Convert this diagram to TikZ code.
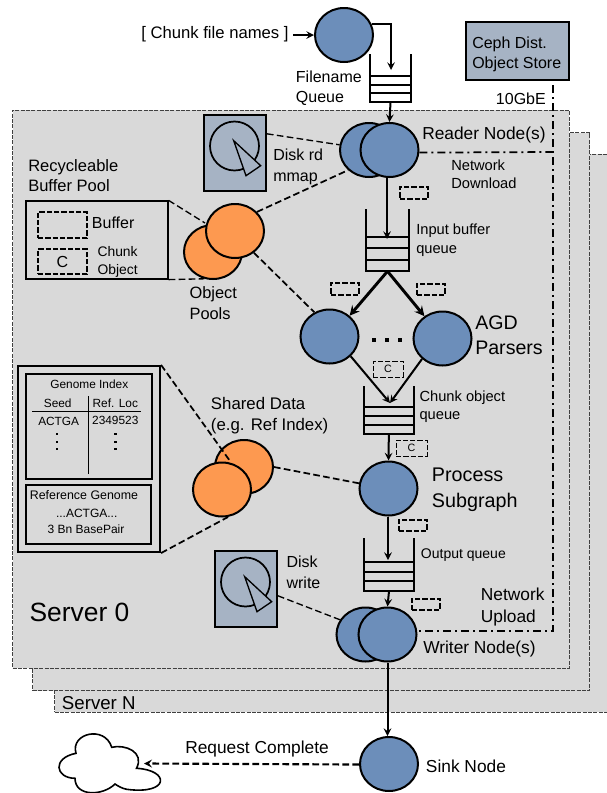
\documentclass[tikz,border=0pt]{standalone}
\usepackage{fontspec}
\setmainfont{Liberation Sans}
\usetikzlibrary{arrows, shapes, fit}

\definecolor{nodeblue}{HTML}{6C8EBA}
\definecolor{poolorange}{HTML}{FD9950}
\definecolor{storegray}{HTML}{A6B3C4}
\definecolor{panelgray}{HTML}{D9D9D9}
\newcommand{\fs}[2]{\fontsize{#1}{#2}\selectfont}

\tikzset{
	panel/.style={draw=black!75, dash pattern=on 3pt off 1pt, line width=0.6pt, fill=panelgray, inner sep=0},
	worker/.style={ellipse, draw, line width=1.5pt, fill=nodeblue, minimum width=43.5pt, minimum height=40.5pt, inner sep=0},
	pool/.style={worker, fill=poolorange},
	store/.style={draw, line width=1.4pt, fill=storegray, inner sep=0},
	infobox/.style={draw, line width=0.9pt, inner sep=0},
	bufbox/.style={draw, dash pattern=on 4pt off 1.5pt, line width=1pt, inner sep=0},
	clabel/.style={label={[inner sep=0, font=\fs{8}{8}]center:C}},
	lab/.style={anchor=west, inner sep=0, align=left, yshift=-1.2pt},
	mid/.style={inner sep=0, align=center, yshift=-0.5pt},
	flow/.style={line width=1.5pt, -stealth},
	heavyflow/.style={line width=2.2pt, -stealth},
	dashlink/.style={dash pattern=on 5pt off 2.5pt, line width=1.3pt},
	netlink/.style={dash pattern=on 6pt off 3pt on 1.5pt off 3pt, line width=1.3pt},
	dotmark/.style={rectangle, fill=black, minimum size=3pt, inner sep=0},
	tabledot/.style={rectangle, fill=black, minimum size=2.2pt, inner sep=0},
}

\newcommand{\drawqueue}[6]{
	\node[inner sep=0, fit={(#2,#4) (#3,#6)}] (#1) {};
	\draw[line width=1.8pt] (#2,#4) -- (#2,#6) -- (#3,#6) -- (#3,#4);
	\draw[line width=1.5pt] (#2,#5) -- (#3,#5);
	\draw[line width=1.5pt] (#2,{#5+(#6-#5)/3}) -- (#3,{#5+(#6-#5)/3});
	\draw[line width=1.5pt] (#2,{#5+2*(#6-#5)/3}) -- (#3,{#5+2*(#6-#5)/3});
}
\newcommand{\drawdisk}[3]{
	\node[store, fit={(#2,#3) (#2+62,#3+76)}] (#1) {};
	\draw[line width=1.3pt, fill=storegray] (#2+30.5,#3+31) circle (24.5);
	\draw[line width=1pt, fill=storegray] (#2+29.7,#3+25.7) -- (#2+56.7,#3+50.7) -- (#2+42,#3+60.7) -- cycle;
}

\begin{document}
\begin{tikzpicture}[x=0.75pt, y=-0.75pt]
		\useasboundingbox (0,0) rectangle (607,793);

		\node[panel, fit={(54.5,154) (609,712)}] (serverN) {};
		\node[panel, fit={(32.5,132.5) (589.5,690.5)}] (server1) {};
		\node[panel, fit={(12.5,110) (569,668)}] (server0) {};
		\node[lab, font=\fs{19.8}{22}] (server0lab) at (29.3,611) {Server 0};
		\node[lab, font=\fs{14}{16}] (serverNlab) at (61.7,701) {Server N};

		\node[store, fit={(466,22) (569,80)}] (ceph) {};
		\node[lab, font=\fs{12}{15}] (cephlab) at (472,53) {Ceph Dist.\\Object Store};
		\node[lab, font=\fs{12}{15}] (gbe) at (495.7,96.7) {10GbE};

		\drawdisk{diskrd}{204}{115}
		\drawdisk{diskwr}{215}{551}

		\node[infobox, fit={(26,201) (168,279)}] (legend) {};
		\node[bufbox, fit={(38,212) (87,238)}] (legbuf) {};
		\node[bufbox, fit={(38,249) (87,274)}, label={[inner sep=0, font=\fs{12}{14}]center:C}] (legchunk) {};
		\node[lab, font=\fs{12}{15}] (legbuflab) at (91.7,221.5) {Buffer};
		\node[lab, font=\fs{10.4}{13.5}] (legchunklab) at (97.3,260) {Chunk\\Object};

		\node[infobox, line width=1.6pt, fit={(18,366) (160,552)}] (genome) {};
		\node[infobox, fit={(26,374) (152,479)}] (gindex) {};
		\node[infobox, fit={(26,485) (151,544)}] (refgen) {};
		\node[mid, font=\fs{8.9}{10}] (gindexlab) at (89.3,384) {Genome Index};
		\node[mid, font=\fs{8.9}{10}] (seedlab) at (57.7,402.7) {Seed};
		\node[mid, font=\fs{8.9}{10}] (loclab) at (115.3,402.7) {Ref. Loc};
		\node[mid, font=\fs{8.9}{10}] (actga) at (58.7,421) {ACTGA};
		\node[mid, font=\fs{8.9}{10}] (locval) at (115.3,420) {2349523};
		\draw[line width=0.7pt] (gindex.west |- 0,411) ++(7,0) -- ++(109,0);
		\draw[line width=0.7pt] (88,396) -- (88,474);
		\foreach \i/\y in {1/434,2/442,3/449} {
			\node[tabledot] (dotseed\i) at (57,\y) {};
			\node[tabledot] (dotloc\i) at (115.7,\y) {};
		}
		\node[mid, font=\fs{9.3}{10}] (refgenlab) at (84,494) {Reference Genome};
		\node[mid, font=\fs{9}{10}] (refseq) at (86.7,512.7) {...ACTGA...};
		\node[mid, font=\fs{9}{10}] (refsize) at (86,529) {3 Bn BasePair};

		\node[worker] (source) at (344,35) {};
		\node[lab, font=\fs{12.5}{15}] (names) at (141,32.5) {[ Chunk file names ]};
		\coordinate (namesout) at (293,35);
		\draw[flow] (namesout) -- (source.west);

		\drawqueue{qfile}{370}{411}{54}{76}{102}
		\coordinate (qfilein) at (391,70);
		\draw[flow] (source.21) -| (qfilein);
		\node[lab, font=\fs{12}{15}] (qfilelab) at (295.7,86.5) {Filename\\Queue};

		\node[worker] (readerb) at (369,150) {};
		\node[pool] (poolb) at (213,252) {};
		\draw[dashlink, line width=1pt] (diskrd.31) -- (readerb.170);
		\draw[dashlink, line width=1pt] (legend.north east) -- (205,223) coordinate (legendin);
		\draw[dashlink, line width=1pt] (legend.south east) -- (poolb.-108);
		\node[pool] (poolf) at (235,231) {};
		\draw[dashlink] (poolf.41) -- (readerb.224);
		\node[worker] (readerf) at (389.5,150) {};
		\draw[flow] (qfile.south) -- (readerf.north);

		\node[lab, font=\fs{13}{16}] (readerlab) at (422,133) {Reader Node(s)};
		\node[lab, font=\fs{12}{15.75}] (diskrdlab) at (273,165.5) {Disk rd\\mmap};
		\node[lab, font=\fs{11}{13.5}] (downlab) at (451,173) {Network\\Download};
		\node[lab, font=\fs{12.4}{15}] (buflab) at (28,174.2) {Recycleable\\Buffer Pool};
		\node[lab, font=\fs{12.3}{15.4}] (poollab) at (189.3,301.5) {Object\\Pools};

		\coordinate (cephout) at (553,85);
		\coordinate (netjoin) at (553,152);
		\draw[netlink] (readerf.-5) -- (netjoin);

		\drawqueue{qinput}{366}{409}{209}{237}{271}
		\coordinate (qinputin) at (387,239);
		\draw[flow] (readerf.south -| qinputin) -- (qinputin);
		\node[lab, font=\fs{11}{14}] (qinputlab) at (416,238.5) {Input buffer\\queue};
		\node[bufbox, fit={(400,187) (428,199)}] (bufread) {};

		\node[worker] (parserl) at (329.5,336.5) {};
		\node[worker] (parserr) at (442.5,338.5) {};
		\draw[heavyflow] (qinput.south) -- (parserl.46);
		\draw[heavyflow] (qinput.south) -- (parserr.129);
		\draw[dashlink] (poolf.-49) -- (parserl.122);
		\foreach \i/\x in {1/374,2/387,3/400} {
			\node[dotmark] (dots\i) at (\x,340) {};
		}
		\node[bufbox, fit={(331,283) (359,295)}] (bufl) {};
		\node[bufbox, fit={(417,284) (445,295)}] (bufr) {};
		\node[lab, font=\fs{14.7}{19}] (parserlab) at (475,333.5) {AGD\\Parsers};

		\drawqueue{qchunk}{364}{413.7}{386}{407}{434}
		\coordinate (qchunkin) at (390,403);
		\draw[flow] (parserl.-43) -- (qchunkin);
		\draw[flow] (parserr.-135) -- (qchunkin);
		\node[bufbox, line width=0.6pt, clabel, fit={(373,361) (403,377)}] (chunkc) {};
		\node[lab, font=\fs{11}{13.5}] (qchunklab) at (419.3,405) {Chunk object\\queue};

		\node[worker] (process) at (388.5,488.5) {};
		\draw[flow] (qchunk.south) -- (process.north);
		\node[bufbox, line width=0.6pt, clabel, fit={(396,440) (427,456)}] (chunkd) {};
		\node[lab, font=\fs{14.8}{19.3}] (processlab) at (431.7,488.5) {Process\\Subgraph};

		\node[pool] (sharedb) at (244,467) {};
		\draw[dashlink] (genome.north east) -- (230,461) coordinate (genomein);
		\draw[dashlink] (genome.south east) -- (228,517) coordinate (genomeout);
		\node[pool] (sharedf) at (222,489.5) {};
		\draw[dashlink] (sharedb.east) -- (process.170);
		\node[lab, font=\fs{12.6}{15.75}] (sharedlab) at (210.7,414) {Shared Data\\(e.g. Ref Index)};

		\drawqueue{qoutput}{364}{414}{538}{562}{591}
		\coordinate (qoutputin) at (388,560);
		\draw[flow] (process.south -| qoutputin) -- (qoutputin);
		\node[bufbox, fit={(399,520) (427,531)}] (bufproc) {};
		\node[lab, font=\fs{10.5}{12}] (qoutputlab) at (420.7,553.5) {Output queue};

		\node[worker] (writerb) at (365.5,634.5) {};
		\draw[dashlink, line width=1pt] (diskwr.-12) -- (writerb.150);
		\node[worker] (writerf) at (387.5,634.5) {};
		\draw[flow] (qoutput.south) -- (writerf.north);
		\node[bufbox, fit={(412,599) (440,610)}] (bufwrite) {};
		\node[lab, font=\fs{12}{15.5}] (diskwrlab) at (286.3,571) {Disk\\write};
		\node[lab, font=\fs{13}{16.5}] (uplab) at (480.7,605) {Network\\Upload};
		\node[lab, font=\fs{13}{16}] (writerlab) at (423,647) {Writer Node(s)};
		\draw[netlink] (cephout) |- (writerf.7);

		\node[worker] (sink) at (389,764) {};
		\draw[flow] (writerf.south) -- (writerf.south |- sink.north);
		\node[lab, font=\fs{13}{16}] (sinklab) at (425.7,765) {Sink Node};

		\coordinate (cloudin) at (144,763.5);
		\draw[line width=1.2pt, fill=white] (76,753.3) .. controls (70,733) and (105,725) .. (111.7,747.3)
			.. controls (125,744) and (145,752) .. (136.5,768.3)
			.. controls (170,770) and (170,795) .. (126.7,789.3)
			.. controls (122,788.5) and (118,786) .. (115,784)
			.. controls (103,796) and (75,797) .. (75,778.3)
			.. controls (55,778) and (52,758) .. (76,753.3) -- cycle;
		\draw[dashlink, line width=1.6pt, -stealth] (sink.181) -- (cloudin);
		\node[lab, font=\fs{13}{16}] (donelab) at (185,747) {Request Complete};
		\end{tikzpicture}
\end{document}
